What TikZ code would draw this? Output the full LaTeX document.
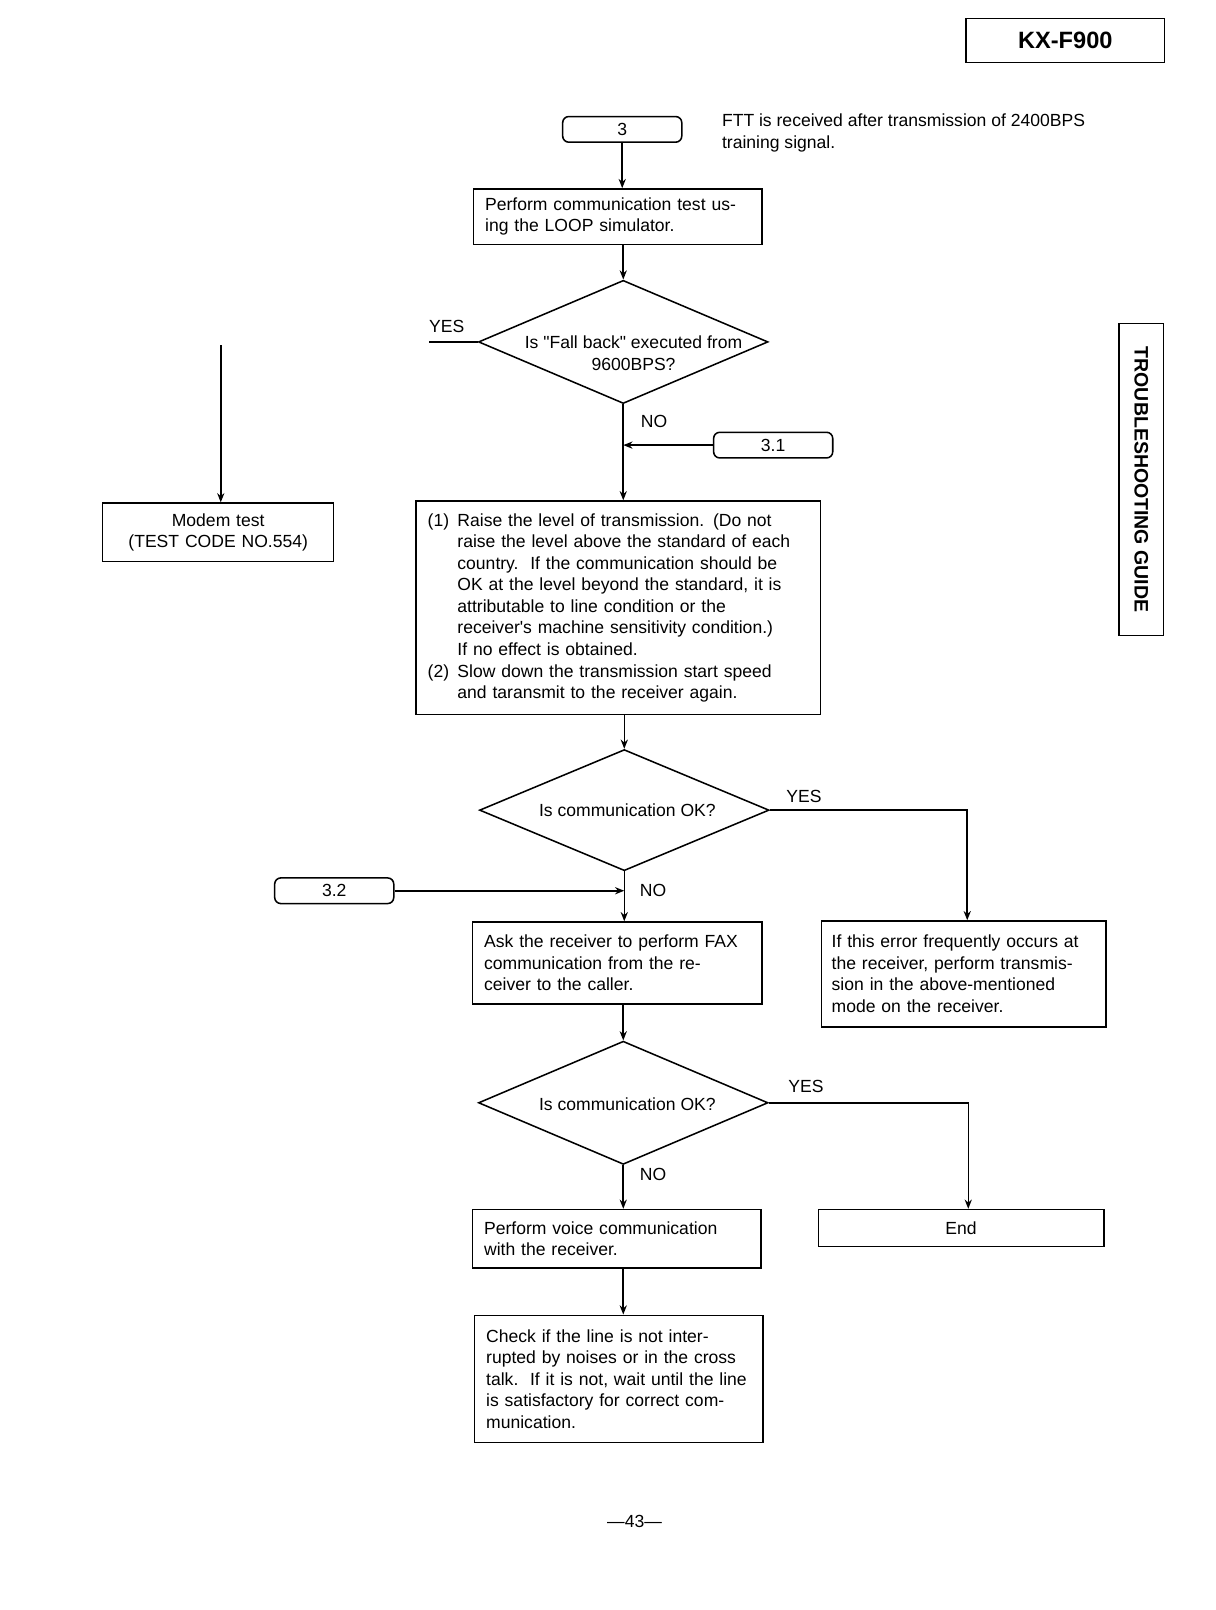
\documentclass[tikz,border=0pt]{standalone}
\usepackage{fontspec}
\setmainfont{Liberation Sans}
\newfontfamily\plainsans{Liberation Sans}
\usetikzlibrary{shapes.geometric,arrows.meta}
\begin{document}
\begin{tikzpicture}[x=1pt,y=-1pt,
  every node/.style={font=\plainsans\fontsize{17.1}{21}\selectfont},
  ln/.style={line width=1.5pt},
  arr/.style={line width=1.5pt,-{Stealth[length=9pt,width=7pt]}},
  proc/.style={draw,line width=1.5pt,align=left,inner xsep=11.5pt,inner ysep=0pt},
  term/.style={draw,line width=1.5pt,rounded corners=6pt,minimum width=116pt,minimum height=25pt,inner sep=0pt},
  dia/.style={draw,line width=1.5pt,shape=diamond,minimum width=282pt,minimum height=120pt,inner sep=0pt},
  lbl/.style={inner sep=0pt}]
\useasboundingbox (0,0) rectangle (1184,1568);

% header boxes
\node[draw,line width=1.5pt,minimum width=193pt,minimum height=43pt,inner sep=0pt,font=\plainsans\fontsize{23}{27}\selectfont\bfseries] (model) at (1037.5,39.5) {KX-F900};
\node[draw,line width=1.5pt,minimum width=304pt,minimum height=43pt,inner sep=0pt,rotate=-90,font=\plainsans\fontsize{19}{23}\selectfont\bfseries] (guide) at (1111.5,467) {TROUBLESHOOTING GUIDE};

% start
\node[term] (n3) at (606,126) {3};
\node[lbl,anchor=west,align=left] (note) at (703,129.5) {FTT is received after transmission of 2400BPS\\training signal.};

\node[proc,text width=258pt,minimum height=54pt] (b1) at (601.5,211) {Perform communication test us-\\ing the LOOP simulator.};

\node[dia] (d1) at (607,333) {};
\node[lbl,align=center] (d1t) at (617,344) {Is "Fall back" executed from\\9600BPS?};
\node[lbl] (yes1) at (435,318) {YES};
\node[lbl] (no1) at (637,410) {NO};
\coordinate (yesend) at (418,333);
\coordinate (mtop) at (215,336);

\node[term] (n31) at (753,433.5) {3.1};

\node[proc,align=center,text width=202pt,minimum height=57pt] (modem) at (212.5,518.5) {Modem test\\(TEST CODE NO.554)};

\node[proc,text width=371pt,minimum height=208pt] (b2) at (602,592) {%
\makebox[29pt][l]{(1)}Raise the level of transmission. (Do not\\
\hspace*{29pt}raise the level above the standard of each\\
\hspace*{29pt}country.\ \ If the communication should be\\
\hspace*{29pt}OK at the level beyond the standard, it is\\
\hspace*{29pt}attributable to line condition or the\\
\hspace*{29pt}receiver's machine sensitivity condition.)\\
\hspace*{29pt}If no effect is obtained.\\
\makebox[29pt][l]{(2)}Slow down the transmission start speed\\
\hspace*{29pt}and taransmit to the receiver again.};

\node[dia,minimum height=118pt] (d2) at (608,789) {};
\node[lbl] (d2t) at (611,789) {Is communication OK?};
\node[lbl] (yes2) at (783,776) {YES};
\node[lbl] (no2) at (636,867) {NO};

\node[term] (n32) at (325.5,867.5) {3.2};

\node[proc,text width=259pt,minimum height=80pt] (b3) at (601,938) {Ask the receiver to perform FAX\\communication from the re-\\ceiver to the caller.};
\node[proc,inner xsep=10pt,text width=257pt,minimum height=103pt] (err) at (938.5,948.5) {If this error frequently occurs at\\the receiver, perform transmis-\\sion in the above-mentioned\\mode on the receiver.};

\node[dia] (d3) at (607,1074) {};
\node[lbl] (d3t) at (611,1075) {Is communication OK?};
\node[lbl] (yes3) at (785,1058) {YES};
\node[lbl] (no3) at (636,1144) {NO};

\node[proc,text width=258pt,minimum height=57pt] (b4) at (600.5,1206.5) {Perform voice communication\\with the receiver.};
\node[proc,align=center,text width=255pt,minimum height=36pt] (endb) at (936,1196) {End};

\node[proc,text width=258pt,minimum height=124pt] (b5) at (602.5,1343) {\mbox{Check if the line is not inter-}\\\mbox{rupted by noises or in the cross}\\\mbox{talk.\ \ If it is not, wait until the line}\\\mbox{is satisfactory for correct com-}\\\mbox{munication.}};

\node[lbl] (page) at (618,1482) {—43—};

% connectors
\draw[arr] (n3.south) -- (n3.south |- b1.north);
\draw[arr] (b1.south -| d1.north) -- (d1.north);
\draw[arr] (d1.south) -- (d1.south |- b2.north);
\draw[arr] (n31.west) -- (n31.west -| d1.south);
\draw[ln] (d1.west) -- (d1.west -| yesend);
\draw[arr] (mtop) -- (mtop |- modem.north);
\draw[arr] (b2.south -| d2.north) -- (d2.north);
\draw[arr] (d2.east) -| ([xshift=3.5pt]err.north);
\draw[arr] (n32.east) -- (n32.east -| d2.south);
\draw[arr] (d2.south) -- (d2.south |- b3.north);
\draw[arr] (b3.south -| d3.north) -- (d3.north);
\draw[arr] (d3.east) -| ([xshift=7pt]endb.north);
\draw[arr] (d3.south) -- (d3.south |- b4.north);
\draw[arr] (b4.south -| d3.south) -- (d3.south |- b5.north);
\end{tikzpicture}
\end{document}
